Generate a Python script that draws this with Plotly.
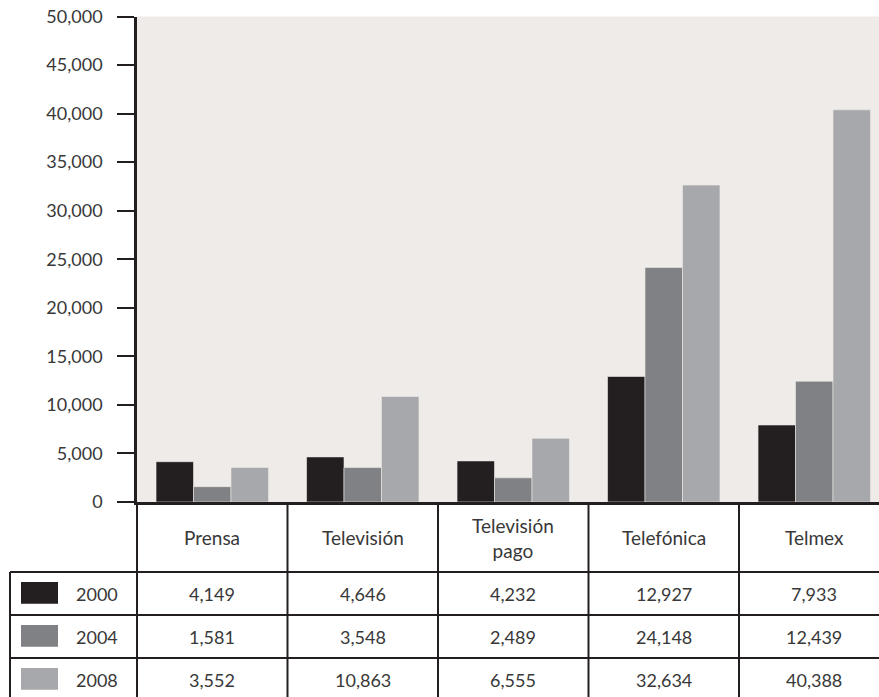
import plotly.graph_objects as go

categories = ["Prensa", "Televisión", "Televisión pago", "Telefónica", "Telmex"]
header_labels = ["Prensa", "Televisión", "Televisión<br>pago", "Telefónica", "Telmex"]
years = ["2000", "2004", "2008"]
values_2000 = [4149, 4646, 4232, 12927, 7933]
values_2004 = [1581, 3548, 2489, 24148, 12439]
values_2008 = [3552, 10863, 6555, 32634, 40388]
series = [values_2000, values_2004, values_2008]
colors = ["#231F20", "#808184", "#A7A8AB"]
y_ticks = list(range(0, 50001, 5000))

W, H = 879, 697
PLOT_LEFT = 137
CAT_PX = 150.5
TOP_PX = 16.5
ZERO_PX = 502
HEADER_PX = 70
ROW_PX = 43

FONT = "Lato"
TXT = "#383838"
LINE = "#231F20"

x_hi = -0.5 + (W - PLOT_LEFT) / CAT_PX
x2_lo = -0.5 - PLOT_LEFT / CAT_PX
table_top = -HEADER_PX / ROW_PX
table_bot = (H - ZERO_PX - HEADER_PX) / ROW_PX

fig = go.Figure()
for yr, vals, col in zip(years, series, colors):
    fig.add_trace(go.Bar(
        x=list(range(len(categories))), y=vals, name=yr,
        marker=dict(color=col, line=dict(color="#EEEBE8", width=0.6)),
        showlegend=False, hoverinfo="skip",
        xaxis="x", yaxis="y",
    ))

shapes = []
annotations = []
shapes.append(dict(type="rect", xref="x domain", yref="y domain", x0=0, x1=1, y0=0, y1=1,
                   fillcolor="#EEEBE8", line=dict(width=0), layer="below"))

legend_left = x2_lo + 10 / CAT_PX
for r in range(len(years)):
    shapes.append(dict(type="line", xref="x2", yref="y2", x0=legend_left, x1=x_hi + 1,
                       y0=r, y1=r, line=dict(color=LINE, width=2)))
shapes.append(dict(type="line", xref="x2", yref="y2", x0=legend_left, x1=legend_left,
                   y0=0, y1=table_bot, line=dict(color=LINE, width=2)))
for i in range(len(categories)):
    b = i - 0.5
    shapes.append(dict(type="line", xref="x2", yref="y2", x0=b, x1=b,
                       y0=table_top + 3 / ROW_PX, y1=table_bot, line=dict(color=LINE, width=2)))

for i, lab in enumerate(header_labels):
    annotations.append(dict(xref="x2", yref="y2", x=i, y=table_top / 2 + 0.02, text=lab,
                            showarrow=False, font=dict(family=FONT, size=19, color=TXT),
                            xanchor="center", yanchor="middle"))
sw_x0 = x2_lo + 21 / CAT_PX
sw_x1 = x2_lo + 58 / CAT_PX
yr_x = x2_lo + 97 / CAT_PX
for r, (yr, vals, col) in enumerate(zip(years, series, colors)):
    shapes.append(dict(type="rect", xref="x2", yref="y2", x0=sw_x0, x1=sw_x1,
                       y0=r + 0.23, y1=r + 0.74, fillcolor=col, line=dict(width=0)))
    annotations.append(dict(xref="x2", yref="y2", x=yr_x, y=r + 0.5, text=yr, showarrow=False,
                            font=dict(family=FONT, size=18, color=TXT),
                            xanchor="center", yanchor="middle"))
    for i, v in enumerate(vals):
        annotations.append(dict(xref="x2", yref="y2", x=i, y=r + 0.5, text=f"{v:,}",
                                showarrow=False, font=dict(family=FONT, size=18, color=TXT),
                                xanchor="center", yanchor="middle"))

fig.update_layout(
    template="none",
    width=W, height=H,
    margin=dict(l=0, r=0, t=0, b=0, pad=0),
    paper_bgcolor="white", plot_bgcolor="white",
    bargap=0.253, bargroupgap=0, barmode="group",
    xaxis=dict(domain=[PLOT_LEFT / W, 1], range=[-0.5, x_hi], showticklabels=False,
               ticks="", showgrid=False, zeroline=False, showline=True, automargin=False,
               linecolor=LINE, linewidth=2.5, anchor="y"),
    yaxis=dict(domain=[(H - ZERO_PX) / H, (H - TOP_PX) / H], range=[0, 50000],
               tickvals=y_ticks, tickformat=",", ticks="outside", ticklen=17, tickwidth=2,
               tickcolor=LINE, showline=True, linecolor=LINE, linewidth=2.5, automargin=False,
               showgrid=False, zeroline=False, anchor="x", ticklabelstandoff=11,
               tickfont=dict(family=FONT, size=18, color=TXT)),
    xaxis2=dict(domain=[0, 1], range=[x2_lo, x_hi], visible=False, anchor="y2",
                automargin=False, showgrid=False, zeroline=False),
    yaxis2=dict(domain=[0, (H - ZERO_PX) / H], range=[table_bot, table_top], visible=False,
                anchor="x2", automargin=False, showgrid=False, zeroline=False),
    shapes=shapes, annotations=annotations,
)

fig.write_html("out.html")
